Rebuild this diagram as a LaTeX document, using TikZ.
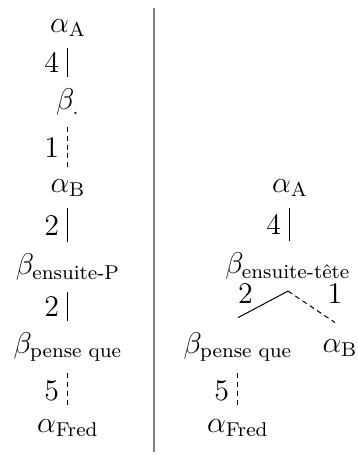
\documentclass[tikz,border=0pt]{standalone}
\usepackage{amsmath}
\usetikzlibrary{positioning}

\begin{document}
\begin{tikzpicture}[x=0.4pt,y=-0.4pt,font=\large,
  tn/.style={inner xsep=2pt,inner ysep=4.5pt},
  sedge/.style={draw},
  dedge/.style={draw,dash pattern=on 2pt off 1.5pt},
  elab/.style={left,inner sep=2pt,xshift=-1.4pt}]
\useasboundingbox (0,0) rectangle (358,455);
% left column
\node[tn] (la) at (68,28) {$\alpha_{\text{A}}$};
\node[tn] (lb) at (68,102) {$\beta_{.}$};
\node[tn] (lab) at (68,188) {$\alpha_{\text{B}}$};
\node[tn] (lep) at (68,267) {$\beta_{\text{ensuite-P}}$};
\node[tn] (lpq) at (68,347) {$\beta_{\text{pense que}}$};
\node[tn] (lf) at (68,428) {$\alpha_{\text{Fred}}$};
\path[sedge] (la.south) -- node[elab] {4} (la.south |- lb.north);
\path[dedge] (la.south |- lb.south) -- node[elab] {1} (la.south |- lab.north);
\path[sedge] (lab.south) -- node[elab] {2} (lab.south |- lep.north);
\path[sedge] (lab.south |- lep.south) -- node[elab] {2} (lab.south |- lpq.north);
\path[dedge] (lab.south |- lpq.south) -- node[elab] {5} (lab.south |- lf.north);
% separator
\coordinate (st) at (154,8);
\coordinate (sb) at (154,452);
\draw[gray,line width=0.6pt] (st) -- (sb);
% right column
\node[tn] (ra) at (290,188) {$\alpha_{\text{A}}$};
\node[tn] (ret) at (288,266) {$\beta_{\text{ensuite-t\^ete}}$};
\node[tn] (rpq) at (238,347) {$\beta_{\text{pense que}}$};
\node[tn] (rb) at (340,348) {$\alpha_{\text{B}}$};
\node[tn] (rf) at (238,428) {$\alpha_{\text{Fred}}$};
\path[sedge] (ra.south) -- node[elab] {4} (ra.south |- ret.north);
\path[sedge] (ret.south) -- node[pos=.85,yshift=8.2pt] {2} ([yshift=1.2pt]rpq.north);
\path[dedge] (ret.south) -- node[pos=1,yshift=11.5pt] {1} ([xshift=-2pt,yshift=2pt]rb.north);
\path[dedge] (rpq.south) -- node[elab] {5} (rf.north);
\end{tikzpicture}
\end{document}
